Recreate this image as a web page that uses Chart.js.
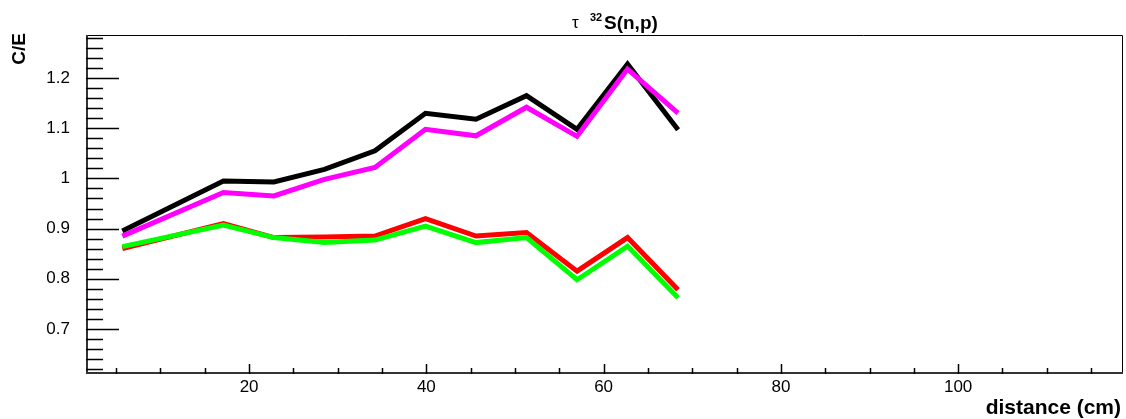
<!DOCTYPE html>
<html>
<head>
<meta charset="utf-8">
<script src="https://cdn.jsdelivr.net/npm/chart.js@4"></script>
<style>
  body { margin: 0; background: #fff; }
  #wrap { width: 1126px; height: 419px; }
</style>
</head>
<body>
<div id="wrap"><canvas id="ceChart" width="1126" height="419"></canvas></div>
<script>
// Datos
const distancias = [5.7, 17.1, 22.8, 28.5, 34.2, 39.9, 45.6, 51.3, 57.0, 62.7, 68.4];
const serieNegra   = [0.895, 0.995, 0.993, 1.018, 1.055, 1.130, 1.118, 1.165, 1.098, 1.228, 1.097];
const serieMagenta = [0.885, 0.972, 0.965, 0.998, 1.022, 1.098, 1.085, 1.142, 1.084, 1.218, 1.130];
const serieRoja    = [0.860, 0.910, 0.882, 0.883, 0.885, 0.920, 0.885, 0.892, 0.815, 0.882, 0.778];
const serieVerde   = [0.864, 0.907, 0.882, 0.872, 0.877, 0.905, 0.872, 0.882, 0.798, 0.865, 0.762];

const ticksX = [20, 40, 60, 80, 100];
const ticksY = [0.7, 0.8, 0.9, 1, 1.1, 1.2];

const FUENTE = "'Liberation Sans', Arial, sans-serif";

function puntos(valores) {
    return distancias.map((d, i) => ({ x: d, y: valores[i] }));
}

function serie(label, valores, color) {
    return {
        label: label,
        data: puntos(valores),
        borderColor: color,
        backgroundColor: color,
        borderWidth: 5,
        pointRadius: 0,
        tension: 0,
        fill: false
    };
}

// Marco y marcas de ejes estilo ROOT
const marcoPlugin = {
    id: 'marco',
    afterDraw(chart) {
        const ctx = chart.ctx;
        const a = chart.chartArea;
        const sx = chart.scales.x;
        const sy = chart.scales.y;
        ctx.save();
        ctx.strokeStyle = '#000';

        // marco
        ctx.lineWidth = 1;
        ctx.beginPath();
        ctx.moveTo(a.left, a.top + 0.5);
        ctx.lineTo(a.right - 0.5, a.top + 0.5);
        ctx.lineTo(a.right - 0.5, a.bottom);
        ctx.stroke();
        ctx.lineWidth = 2;
        ctx.strokeStyle = '#333';
        ctx.beginPath();
        ctx.moveTo(a.left + 1, a.top);
        ctx.lineTo(a.left + 1, a.bottom - 1);
        ctx.lineTo(a.right, a.bottom - 1);
        ctx.stroke();

        // marcas eje Y
        ctx.lineWidth = 1.5;
        ctx.strokeStyle = '#000';
        ctx.beginPath();
        for (let v = 0.62; v < sy.max; v += 0.02) {
            const y = Math.round(sy.getPixelForValue(v)) + 0.5;
            const mayor = ticksY.some(t => Math.abs(t - v) < 1e-6);
            ctx.moveTo(a.left, y);
            ctx.lineTo(a.left + (mayor ? 33 : 17), y);
        }
        ctx.stroke();

        // marcas eje X
        ctx.beginPath();
        for (let v = 5; v < sx.max; v += 5) {
            const x = Math.round(sx.getPixelForValue(v)) + 0.5;
            const mayor = ticksX.includes(v);
            ctx.moveTo(x, a.bottom);
            ctx.lineTo(x, a.bottom - (mayor ? 10 : 6));
        }
        ctx.stroke();

        // título
        ctx.fillStyle = '#000';
        ctx.textBaseline = 'alphabetic';
        ctx.textAlign = 'left';
        ctx.font = '17px ' + FUENTE;
        ctx.fillText('τ', 572, 28);
        ctx.font = 'bold 11px ' + FUENTE;
        ctx.fillText('32', 590, 21);
        ctx.font = 'bold 19px ' + FUENTE;
        ctx.fillText('S(n,p)', 604, 29);

        // títulos de ejes
        ctx.font = 'bold 21px ' + FUENTE;
        ctx.textAlign = 'right';
        ctx.fillText('distance (cm)', 1121, 414);

        ctx.translate(25, 33);
        ctx.rotate(-Math.PI / 2);
        ctx.font = 'bold 19px ' + FUENTE;
        ctx.textAlign = 'right';
        ctx.fillText('C/E', 0, 0);
        ctx.restore();
    }
};

function inicializarGrafico() {
    const ctx = document.getElementById('ceChart').getContext('2d');
    new Chart(ctx, {
        type: 'line',
        data: {
            datasets: [
                serie('verde', serieVerde, '#00ff00'),
                serie('magenta', serieMagenta, '#ff00ff'),
                serie('roja', serieRoja, '#ff0000'),
                serie('negra', serieNegra, '#000000')
            ]
        },
        options: {
            responsive: false,
            animation: false,
            layout: { padding: { top: 35, right: 3, left: 0, bottom: 0 } },
            plugins: {
                legend: { display: false },
                tooltip: { enabled: false }
            },
            scales: {
                x: {
                    type: 'linear',
                    min: 1.6,
                    max: 118.6,
                    grid: { display: false },
                    border: { display: false },
                    afterBuildTicks: s => { s.ticks = ticksX.map(v => ({ value: v })); },
                    afterFit: s => { s.height = 45; },
                    ticks: {
                        padding: -5,
                        color: '#000',
                        font: { family: FUENTE, size: 17 },
                        maxRotation: 0,
                        callback: v => String(v)
                    }
                },
                y: {
                    min: 0.61,
                    max: 1.286,
                    grid: { display: false },
                    border: { display: false },
                    afterBuildTicks: s => { s.ticks = ticksY.map(v => ({ value: v })); },
                    afterFit: s => { s.width = 86; },
                    ticks: {
                        padding: 8,
                        color: '#000',
                        font: { family: FUENTE, size: 17 },
                        callback: v => String(v)
                    }
                }
            }
        },
        plugins: [marcoPlugin]
    });
}

document.addEventListener('DOMContentLoaded', inicializarGrafico);
</script>
</body>
</html>
